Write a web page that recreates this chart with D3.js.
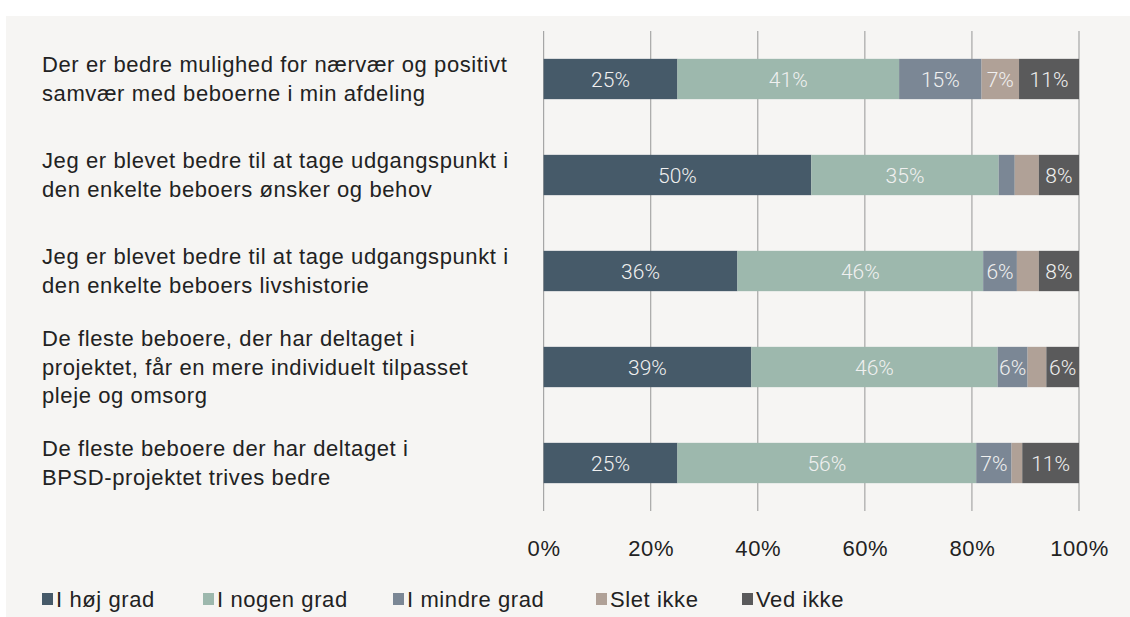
<!DOCTYPE html>
<html>
<head>
<meta charset="utf-8">
<script src="https://cdn.jsdelivr.net/npm/d3@7"></script>
<style>
  html, body { margin: 0; padding: 0; background: #ffffff; }
  svg { display: block; }
  text { font-family: "Helvetica Neue", "Liberation Sans", Arial, sans-serif; }
  .lbl { letter-spacing: 0.6px; }
</style>
</head>
<body>
<svg id="chart" width="1130" height="617"></svg>
<script>
const categories = [
  "Der er bedre mulighed for nærvær og positivt\nsamvær med beboerne i min afdeling",
  "Jeg er blevet bedre til at tage udgangspunkt i\nden enkelte beboers ønsker og behov",
  "Jeg er blevet bedre til at tage udgangspunkt i\nden enkelte beboers livshistorie",
  "De fleste beboere, der har deltaget i\nprojektet, får en mere individuelt tilpasset\npleje og omsorg",
  "De fleste beboere der har deltaget i\nBPSD-projektet trives bedre"
];
const seriesNames = ["I høj grad", "I nogen grad", "I mindre grad", "Slet ikke", "Ved ikke"];
const hojGrad    = [25.0, 50.0, 36.2, 38.8, 25.0];
const nogenGrad  = [41.4, 35.0, 45.9, 46.0, 55.8];
const mindreGrad = [15.4, 3.0, 6.3, 5.6, 6.6];
const sletIkke   = [7.0, 4.5, 4.1, 3.5, 2.0];
const vedIkke    = [11.2, 7.5, 7.5, 6.1, 10.6];
const tickValues = [0, 20, 40, 60, 80, 100];
const colors = ["#465a69", "#9db8ad", "#7b8795", "#b0a197", "#5a5a5b"];

const seriesValues = [hojGrad, nogenGrad, mindreGrad, sletIkke, vedIkke];
const rows = categories.map((c, i) => {
  const r = { cat: c };
  seriesNames.forEach((s, j) => r[s] = seriesValues[j][i]);
  return r;
});

const svg = d3.select("#chart");
// panel background
svg.append("rect").attr("x", 6).attr("y", 16).attr("width", 1124).attr("height", 601).attr("fill", "#f6f5f3");

const x = d3.scaleLinear().domain([0, 100]).range([543.6, 1079]);
const y = d3.scaleBand().domain(categories).range([31, 511]).padding(0);
const barH = y.bandwidth() * 0.42;

// gridlines
svg.append("g").selectAll("line").data(tickValues).join("line")
  .attr("x1", d => x(d)).attr("x2", d => x(d))
  .attr("y1", 31).attr("y2", 511)
  .attr("stroke", "#a6a6a6").attr("stroke-width", 1.2);

const stack = d3.stack().keys(seriesNames)(rows);

const layers = svg.append("g").selectAll("g").data(stack).join("g")
  .attr("fill", (d, i) => colors[i]);

layers.selectAll("rect").data(d => d).join("rect")
  .attr("x", d => x(d[0]))
  .attr("width", d => x(d[1]) - x(d[0]))
  .attr("y", d => y(d.data.cat) + (y.bandwidth() - barH) / 2)
  .attr("height", barH);

layers.selectAll("text").data(d => d.filter(p => (p[1] - p[0]) >= 5.5)).join("text")
  .attr("x", d => (x(d[0]) + x(d[1])) / 2)
  .attr("y", d => y(d.data.cat) + y.bandwidth() / 2)
  .attr("dy", "0.36em")
  .attr("text-anchor", "middle")
  .attr("fill", "#f0f0f0")
  .attr("font-size", 21)
  .style("font-family", "Roboto, 'Liberation Sans', sans-serif")
  .style("font-weight", 300)
  .text(d => Math.round(d[1] - d[0]) + "%");

// x axis labels
const xAxis = d3.axisBottom(x).tickValues(tickValues).tickFormat(d => d + "%").tickSize(0).tickPadding(0);
const ax = svg.append("g").attr("transform", "translate(0,540)").call(xAxis);
ax.select(".domain").remove();
ax.selectAll("text").attr("class", "lbl").attr("font-size", 22).attr("fill", "#222").attr("dy", "0.71em")
  .style("font-family", "'Helvetica Neue', 'Liberation Sans', Arial, sans-serif");

// category labels
const lineH = 28.5;
const catG = svg.append("g");
categories.forEach(c => {
  const lines = c.split("\n");
  const cy = y(c) + y.bandwidth() / 2;
  const t = catG.append("text").attr("class", "lbl").attr("x", 42).attr("font-size", 22).attr("fill", "#222");
  lines.forEach((ln, k) => {
    t.append("tspan").attr("x", 42)
      .attr("y", cy + (k - (lines.length - 1) / 2) * lineH)
      .attr("dy", "0.35em").text(ln);
  });
});

// legend
const legendX = [42, 203, 393, 596, 742];
const leg = svg.append("g").selectAll("g").data(seriesNames).join("g")
  .attr("transform", (d, i) => `translate(${legendX[i]},599)`);
leg.append("rect").attr("x", 0).attr("y", -6).attr("width", 11).attr("height", 12)
  .attr("fill", (d, i) => colors[i]);
leg.append("text").attr("class", "lbl").attr("x", 14).attr("dy", "0.35em").attr("font-size", 22).attr("fill", "#222")
  .text(d => d);
</script>
</body>
</html>
